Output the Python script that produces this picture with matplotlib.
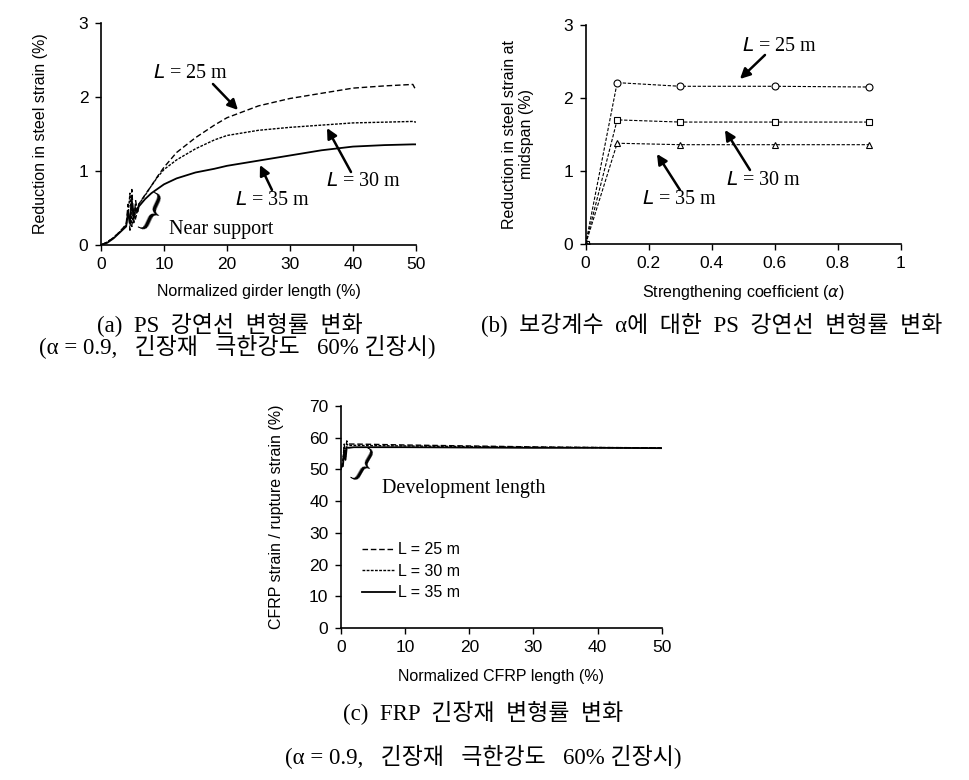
import matplotlib
matplotlib.use("Agg")
import matplotlib.pyplot as plt
from matplotlib.ticker import FuncFormatter

plt.rcParams['font.family'] = ['Liberation Sans', 'DejaVu Sans']

# ---------------- data ----------------
# (a) reduction in steel strain vs normalized girder length
xa = [0, 1, 2, 3, 4, 4.3, 4.6, 4.9, 5.2, 5.5, 5.8, 6, 7, 8, 9, 10, 12, 15, 18, 20, 25, 30, 35, 40, 45, 49.5, 50]
a25 = [0, 0.04, 0.1, 0.18, 0.28, 0.55, 0.2, 0.75, 0.3, 0.6, 0.45, 0.55, 0.68, 0.8, 0.93, 1.05, 1.25, 1.45, 1.62, 1.72, 1.88, 1.98, 2.05, 2.12, 2.15, 2.17, 2.09]
a30 = [0, 0.04, 0.1, 0.18, 0.27, 0.4, 0.7, 0.25, 0.5, 0.35, 0.5, 0.55, 0.67, 0.8, 0.92, 1.02, 1.15, 1.3, 1.42, 1.48, 1.55, 1.59, 1.62, 1.65, 1.66, 1.67, 1.66]
a35 = [0, 0.03, 0.09, 0.17, 0.25, 0.45, 0.3, 0.6, 0.35, 0.5, 0.45, 0.52, 0.62, 0.7, 0.76, 0.82, 0.9, 0.98, 1.03, 1.07, 1.14, 1.21, 1.28, 1.33, 1.35, 1.36, 1.36]

# (b) reduction at midspan vs strengthening coefficient
alpha = [0, 0.1, 0.3, 0.6, 0.9]
b25 = [0, 2.21, 2.16, 2.16, 2.15]
b30 = [0, 1.70, 1.67, 1.67, 1.67]
b35 = [0, 1.38, 1.36, 1.36, 1.36]

# (c) CFRP strain / rupture strain vs normalized CFRP length
xc = [0, 0.3, 0.5, 0.7, 0.9, 1.2, 2, 5, 10, 20, 30, 40, 50]
c25 = [50, 52, 58, 54, 59, 58, 58, 57.9, 57.7, 57.4, 57.1, 56.9, 56.8]
c30 = [50, 53, 57, 55, 58, 57.5, 57.6, 57.5, 57.4, 57.2, 57.0, 56.9, 56.8]
c35 = [51, 51, 56, 53, 57, 56.8, 57, 57, 57, 56.9, 56.8, 56.8, 56.7]

labels = ['L = 25 m', 'L = 30 m', 'L = 35 m']

# ---------------- styling ----------------
ls25 = (0, (4, 2))
ls30 = (0, (2, 1))
serif = ['Liberation Serif', 'DejaVu Serif']
kfont = ['Liberation Serif', 'Noto Sans CJK KR']
tick_fs = 12.5
lab_fs = 11.5
ann_fs = 14.5
cap_fs = 16.5

fig = plt.figure(figsize=(9.69, 7.80), dpi=100)

def style(ax):
    for s in ['top', 'right']:
        ax.spines[s].set_visible(False)
    for s in ['left', 'bottom']:
        ax.spines[s].set_linewidth(1.2)
        ax.spines[s].set_color('black')
    ax.tick_params(direction='out', length=4, width=1, labelsize=tick_fs, colors='black', pad=5)

def lab(ax, txt, xy, xytext):
    ax.annotate('', xy=xy, xytext=xytext, xycoords='axes fraction', textcoords='axes fraction',
                arrowprops=dict(arrowstyle='-|>,head_length=0.6,head_width=0.3', lw=1.8, color='black',
                                shrinkA=0, shrinkB=0))

def ltext(ax, x, y, num):
    ax.text(x, y, r'$\mathit{L}$' + ' = %s m' % num, transform=ax.transAxes, fontsize=ann_fs,
            family=serif, ha='center', va='center')

def px(ax, x, y, x0, x1, y0, y1):
    return ((x - x0) / (x1 - x0), (y0 - y) / (y0 - y1))

# ---- (a)
axa = fig.add_axes([0.1042, 0.6859, 0.3251, 0.2846])
axa.plot(xa, a25, color='black', lw=1.0, ls=ls25)
axa.plot(xa, a30, color='black', lw=1.0, ls=ls30)
axa.plot(xa, a35, color='black', lw=1.3, ls='-')
axa.set_xlim(0, 50)
axa.set_ylim(0, 3)
axa.set_xticks([0, 10, 20, 30, 40, 50])
axa.set_yticks([0, 1, 2, 3])
style(axa)
axa.set_xlabel('Normalized girder length (%)', fontsize=lab_fs, labelpad=8)
axa.set_ylabel('Reduction in steel strain (%)', fontsize=lab_fs, labelpad=22)

A = (101, 416, 245, 23)
ltext(axa, *px(axa, 191, 73, *A), '25')
lab(axa, '', px(axa, 238, 110, *A), px(axa, 213, 84, *A))
ltext(axa, *px(axa, 273, 200, *A), '35')
lab(axa, '', px(axa, 260, 165, *A), px(axa, 272, 190, *A))
ltext(axa, *px(axa, 364, 181, *A), '30')
lab(axa, '', px(axa, 327, 128, *A), px(axa, 351, 172, *A))
axa.text(*px(axa, 221, 230, *A), 'Near support', transform=axa.transAxes, fontsize=ann_fs,
         family=serif, ha='center', va='center')
axa.text(*px(axa, 150, 216, *A), '}', transform=axa.transAxes, fontsize=34, rotation=-25,
         family=serif, ha='center', va='center')

# ---- (b)
axb = fig.add_axes([0.6044, 0.6872, 0.3251, 0.2808])
axb.plot(alpha, b25, color='black', lw=0.8, ls=(0, (3, 1.5)), marker='o', ms=5, mfc='white', mec='black', mew=0.8)
axb.plot(alpha, b30, color='black', lw=0.8, ls=(0, (3, 1.5)), marker='s', ms=5, mfc='white', mec='black', mew=0.8)
axb.plot(alpha, b35, color='black', lw=0.8, ls=(0, (3, 1.5)), marker='^', ms=5, mfc='white', mec='black', mew=0.8)
axb.set_xlim(0, 1)
axb.set_ylim(0, 3)
axb.set_xticks([0, 0.2, 0.4, 0.6, 0.8, 1])
axb.xaxis.set_major_formatter(FuncFormatter(lambda v, p: '%g' % v))
axb.set_yticks([0, 1, 2, 3])
style(axb)
axb.set_xlabel(r'Strengthening coefficient ($\alpha$)', fontsize=lab_fs, labelpad=8)
axb.set_ylabel('Reduction in steel strain at\nmidspan (%)', fontsize=lab_fs, labelpad=21)
B = (585.7, 900.7, 244, 25)
ltext(axb, *px(axb, 780, 47, *B), '25')
lab(axb, '', px(axb, 740, 79, *B), px(axb, 765, 55, *B))
ltext(axb, *px(axb, 764, 181, *B), '30')
lab(axb, '', px(axb, 725, 130, *B), px(axb, 750, 170, *B))
ltext(axb, *px(axb, 680, 200, *B), '35')
lab(axb, '', px(axb, 657, 154, *B), px(axb, 680, 190, *B))

# ---- (c)
axc = fig.add_axes([0.3519, 0.1949, 0.3310, 0.2846])
axc.plot(xc, c25, color='black', lw=1.0, ls=ls25, label=labels[0])
axc.plot(xc, c30, color='black', lw=1.0, ls=ls30, label=labels[1])
axc.plot(xc, c35, color='black', lw=1.3, ls='-', label=labels[2])
axc.set_xlim(0, 50)
axc.set_ylim(0, 70)
axc.set_xticks([0, 10, 20, 30, 40, 50])
axc.set_yticks(range(0, 71, 10))
style(axc)
axc.set_xlabel('Normalized CFRP length (%)', fontsize=lab_fs, labelpad=10)
axc.set_ylabel('CFRP strain / rupture strain (%)', fontsize=lab_fs, labelpad=18)
axc.legend(loc='center left', bbox_to_anchor=(0.045, 0.255), frameon=False, fontsize=11.5,
           handlelength=2.1, handletextpad=0.15, labelspacing=0.4, borderaxespad=0)
C = (341, 661.7, 628, 406)
axc.text(*px(axc, 464, 489, *C), 'Development length', transform=axc.transAxes, fontsize=ann_fs,
         family=serif, ha='center', va='center')
axc.text(*px(axc, 362, 468, *C), '}', transform=axc.transAxes, fontsize=30, rotation=-30,
         family=serif, ha='center', va='center')

# ---------------- captions ----------------
def cap(x, y, s, ha='center'):
    fig.text(x / 969, 1 - y / 780, s, fontsize=cap_fs, family=kfont, ha=ha, va='center')

cap(230, 325, '(a)  PS  강연선  변형률  변화')
cap(712, 325, '(b)  보강계수  α에  대한  PS  강연선  변형률  변화')
cap(237, 347, '(α = 0.9,   긴장재   극한강도   60% 긴장시)')
cap(483, 713, '(c)  FRP  긴장재  변형률  변화')
cap(483, 757, '(α = 0.9,   긴장재   극한강도   60% 긴장시)')

fig.savefig('out.png', dpi=100)
